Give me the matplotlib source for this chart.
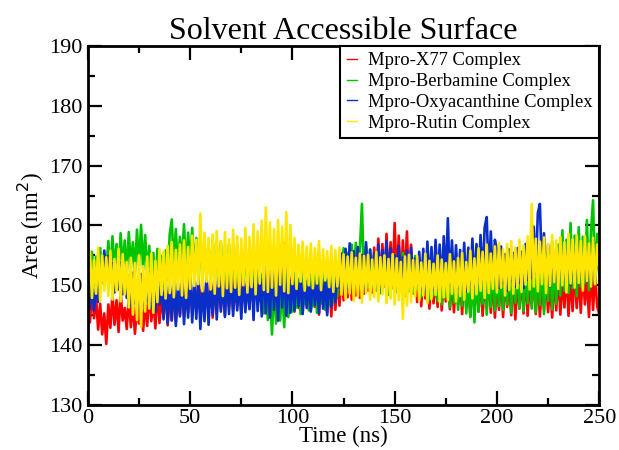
import numpy as np
import matplotlib
matplotlib.use("Agg")
import matplotlib.pyplot as plt
from matplotlib.ticker import MultipleLocator

# time axis, one value read per ns
time_ns = list(range(0, 251))

x77 = [
    147.2, 143.8, 149.1, 144.5, 148.0, 142.6, 146.9, 141.8, 145.3, 140.2,
    146.8, 142.9, 148.6, 143.4, 147.5, 142.2, 149.0, 144.1, 146.2, 142.7,
    148.3, 143.0, 147.1, 141.9, 146.4, 143.6, 148.8, 142.4, 147.0, 143.2,
    149.2, 144.0, 147.8, 142.8, 149.5, 143.7, 148.1, 144.6, 150.0, 143.3,
    148.7, 144.2, 149.6, 143.8, 147.9, 145.1, 150.4, 144.8, 149.2, 145.5,
    151.0, 145.2, 149.8, 146.0, 150.6, 144.9, 151.2, 145.7, 149.4, 146.3,
    151.5, 144.6, 150.2, 145.3, 152.0, 146.1, 150.8, 145.0, 151.6, 146.4,
    150.1, 145.8, 152.2, 146.6, 151.0, 145.4, 151.8, 146.9, 150.5, 146.2,
    152.4, 146.5, 151.3, 147.0, 152.8, 146.3, 151.7, 147.4, 152.6, 146.8,
    151.9, 146.1, 153.2, 147.2, 152.0, 148.0, 157.0, 147.6, 153.5, 146.9,
    152.1, 145.6, 151.4, 146.2, 152.3, 145.3, 150.9, 146.7, 151.8, 145.9,
    150.6, 146.4, 152.0, 145.1, 151.2, 146.8, 150.3, 145.5, 151.9, 144.8,
    150.7, 145.9, 151.6, 146.6, 152.4, 147.5, 153.1, 148.0, 153.8, 147.6,
    152.9, 148.3, 154.2, 147.9, 153.5, 148.6, 154.0, 149.1, 155.2, 148.8,
    156.3, 149.5, 157.8, 150.2, 156.9, 149.8, 158.6, 150.6, 157.2, 151.0,
    160.4, 150.4, 158.3, 149.7, 157.5, 150.9, 159.0, 149.3, 156.8, 150.1,
    153.6, 147.2, 152.4, 146.5, 153.0, 147.8, 151.9, 146.1, 152.7, 147.0,
    151.5, 146.4, 152.9, 145.8, 151.2, 147.3, 152.5, 146.0, 150.9, 145.5,
    152.2, 146.8, 151.0, 145.2, 152.6, 146.3, 150.7, 144.8, 151.8, 146.0,
    150.4, 145.6, 151.9, 144.9, 150.8, 146.2, 152.1, 145.4, 151.3, 144.6,
    150.6, 145.9, 152.0, 144.7, 151.1, 146.4, 150.2, 145.0, 151.7, 144.3,
    150.9, 146.1, 151.5, 145.3, 152.3, 144.9, 150.5, 146.6, 151.4, 145.2,
    152.0, 144.8, 150.8, 146.0, 151.9, 145.5, 150.3, 144.6, 151.6, 145.8,
    152.4, 145.1, 151.0, 146.3, 152.7, 144.9, 151.5, 145.7, 153.0, 146.2,
    151.8, 145.4, 152.6, 146.8, 151.2, 144.7, 153.3, 145.9, 152.1, 146.5,
    145.2,
]

berbamine = [
    152.4, 149.3, 155.6, 150.1, 154.8, 149.6, 156.2, 151.0, 155.1, 152.3,
    157.4, 151.6, 158.2, 152.5, 156.9, 151.3, 158.7, 152.8, 157.5, 151.9,
    158.9, 153.0, 157.2, 152.1, 159.3, 153.4, 160.1, 152.7, 158.4, 151.8,
    156.6, 150.5, 155.4, 149.2, 156.1, 150.3, 154.9, 149.8, 155.8, 150.9,
    158.5, 161.0, 153.2, 159.4, 152.6, 158.1, 153.8, 160.2, 152.4, 158.8,
    153.1, 159.6, 152.0, 157.9, 151.5, 158.3, 150.8, 157.1, 151.9, 156.4,
    150.6, 157.8, 151.2, 156.5, 150.1, 157.3, 149.6, 156.0, 150.4, 156.9,
    149.3, 155.7, 150.8, 156.6, 149.1, 155.2, 150.3, 156.3, 149.7, 155.0,
    150.2, 154.1, 148.6, 153.2, 147.4, 151.8, 145.3, 150.6, 144.2, 149.7,
    141.8, 150.2, 143.6, 151.4, 144.1, 149.8, 143.0, 152.3, 144.7, 150.5,
    145.6, 152.1, 146.3, 151.0, 145.2, 152.8, 146.9, 150.7, 145.8, 151.9,
    146.5, 152.6, 145.4, 151.3, 147.0, 152.9, 145.9, 150.8, 146.7, 152.2,
    147.3, 153.1, 148.2, 154.6, 149.5, 156.2, 150.1, 155.4, 149.7, 156.8,
    150.6, 157.1, 151.2, 156.0, 163.6, 150.4, 156.5, 149.8, 155.9, 150.3,
    155.2, 149.1, 156.0, 148.7, 154.8, 150.0, 155.6, 148.4, 154.3, 149.5,
    155.1, 148.9, 153.9, 149.7, 155.4, 148.2, 154.6, 149.0, 153.7, 148.6,
    154.9, 149.4, 153.5, 148.1, 155.0, 148.8, 153.8, 147.6, 154.4, 148.3,
    153.1, 147.4, 154.2, 146.8, 152.9, 148.0, 153.6, 146.3, 152.4, 147.1,
    153.3, 145.9, 152.1, 146.6, 153.7, 145.3, 152.6, 144.7, 151.8, 143.8,
    152.9, 145.6, 151.5, 146.9, 153.4, 145.1, 152.2, 146.4, 154.0, 145.8,
    152.7, 146.5, 154.1, 145.9, 153.0, 146.8, 154.5, 145.4, 152.8, 147.1,
    153.9, 146.2, 154.7, 145.7, 153.2, 147.0, 155.1, 146.1, 154.0, 145.5,
    153.6, 146.7, 154.9, 145.2, 153.3, 147.4, 155.4, 146.0, 154.2, 146.9,
    156.8, 148.3, 159.2, 149.1, 157.6, 148.7, 160.4, 149.5, 158.3, 148.2,
    159.7, 149.8, 158.1, 150.5, 160.9, 149.2, 159.0, 164.2, 150.1, 158.6,
    152.0,
]

oxyacanthine = [
    148.3, 146.1, 150.7, 145.8, 149.9, 147.2, 152.6, 150.4, 155.8, 151.2,
    154.9, 150.6, 153.7, 148.8, 152.9, 149.3, 153.8, 148.5, 152.2, 147.9,
    151.6, 146.4, 152.1, 147.0, 150.8, 145.9, 151.9, 146.6, 150.5, 147.3,
    152.3, 146.2, 151.4, 145.6, 152.0, 146.8, 150.9, 144.3, 151.2, 143.6,
    150.8, 144.1, 151.5, 143.2, 150.3, 144.8, 151.7, 143.5, 149.9, 144.6,
    152.2, 143.8, 150.6, 144.4, 151.3, 142.7, 150.1, 144.0, 151.8, 143.4,
    150.5, 145.1, 151.9, 144.3, 152.0, 145.6, 150.8, 144.7, 151.6, 145.2,
    152.3, 144.9, 150.9, 145.8, 151.4, 144.4, 152.1, 145.5, 150.7, 146.0,
    152.6, 144.2, 153.4, 145.7, 151.9, 144.8, 154.2, 145.3, 152.5, 144.6,
    153.8, 145.9, 152.2, 144.1, 154.6, 146.3, 153.1, 144.9, 152.8, 145.4,
    151.7, 145.8, 152.4, 146.5, 151.1, 145.2, 152.0, 146.2, 150.6, 145.6,
    151.9, 146.7, 150.8, 145.4, 152.3, 146.1, 151.2, 145.0, 152.1, 146.4,
    151.0, 147.2, 153.5, 149.6, 155.3, 150.2, 156.1, 149.4, 157.0, 150.8,
    155.7, 149.9, 156.4, 150.5, 155.1, 149.3, 157.2, 150.1, 156.0, 149.7,
    155.4, 150.6, 156.8, 149.2, 155.9, 150.3, 157.4, 149.8, 156.2, 150.9,
    155.0, 149.5, 156.6, 150.2, 154.7, 149.1, 155.8, 150.4, 156.3, 149.6,
    154.5, 150.0, 155.6, 149.3, 156.1, 148.8, 157.3, 149.9, 156.4, 149.2,
    157.6, 150.3, 156.8, 149.6, 158.2, 150.7, 161.2, 149.9, 157.5, 150.1,
    156.7, 149.4, 155.9, 150.5, 157.1, 149.0, 156.3, 150.2, 157.8, 149.7,
    156.9, 151.0, 158.4, 150.6, 159.7, 161.4, 151.3, 159.0, 150.8, 157.6,
    155.8, 149.6, 156.5, 150.3, 155.2, 149.1, 156.0, 150.7, 155.4, 149.8,
    156.2, 150.4, 155.6, 149.5, 156.9, 150.9, 155.3, 151.2, 159.8, 152.0,
    162.1, 163.6, 152.4, 158.7, 150.6, 156.8, 149.8, 157.2, 150.5, 156.1,
    149.7, 157.0, 150.8, 156.4, 149.3, 157.5, 150.1, 156.7, 149.6, 157.9,
    150.9, 156.2, 149.4, 157.3, 150.6, 156.0, 149.9, 157.7, 151.1, 155.8,
    152.4,
]

rutin = [
    151.8, 155.6, 147.9, 154.2, 148.6, 156.3, 147.4, 155.0, 149.1, 154.7,
    148.2, 155.8, 147.6, 154.4, 149.0, 156.1, 147.3, 155.2, 148.5, 153.9,
    146.3, 154.6, 145.1, 153.7, 144.2, 155.0, 143.0, 153.2, 145.6, 154.8,
    146.1, 155.3, 145.4, 154.1, 147.2, 156.0, 148.4, 155.7, 147.8, 156.6,
    148.7, 157.2, 148.0, 155.9, 149.3, 156.8, 148.3, 157.5, 147.9, 156.4,
    149.4, 158.3, 149.9, 157.6, 150.2, 162.0, 149.0, 158.8, 150.6, 157.9,
    149.3, 158.5, 148.6, 159.1, 149.8, 157.4, 148.2, 158.9, 149.5, 157.7,
    148.9, 159.3, 149.6, 158.2, 148.4, 157.8, 150.0, 159.6, 148.8, 158.1,
    149.7, 160.2, 148.5, 159.0, 150.3, 160.8, 149.2, 163.0, 148.9, 160.5,
    149.6, 159.4, 148.3, 160.9, 150.1, 159.8, 149.0, 162.2, 148.7, 160.1,
    150.2, 157.9, 149.4, 156.8, 150.6, 157.3, 149.1, 156.5, 150.0, 157.0,
    149.5, 156.2, 150.3, 157.4, 149.2, 156.0, 150.8, 155.7, 149.7, 156.6,
    148.9, 155.9, 149.8, 156.3, 148.4, 155.2, 147.7, 154.8, 148.6, 155.5,
    147.4, 154.6, 148.2, 155.3, 147.1, 154.9, 148.7, 155.1, 147.6, 154.3,
    148.0, 155.6, 147.3, 154.7, 148.5, 155.0, 147.0, 154.4, 147.8, 155.2,
    146.8, 154.5, 147.5, 153.9, 144.4, 154.8, 146.6, 155.1, 147.2, 154.2,
    148.1, 154.9, 147.4, 153.8, 148.3, 155.3, 147.0, 154.1, 147.7, 153.6,
    148.4, 155.0, 147.2, 154.3, 148.0, 153.7, 147.5, 155.2, 148.6, 154.0,
    147.3, 154.6, 148.2, 155.4, 147.6, 153.9, 148.9, 155.8, 147.8, 154.5,
    148.5, 156.2, 149.1, 155.6, 147.9, 156.8, 148.7, 155.3, 149.4, 156.5,
    148.8, 157.1, 149.6, 156.0, 148.3, 156.9, 149.2, 157.4, 148.6, 156.3,
    149.5, 157.6, 148.9, 156.7, 150.1, 158.2, 149.3, 163.6, 149.8, 157.8,
    149.0, 157.3, 150.2, 158.0, 148.7, 156.9, 149.9, 158.4, 150.5, 157.5,
    149.4, 158.1, 150.0, 157.2, 148.8, 158.6, 150.3, 157.7, 149.6, 158.3,
    150.4, 157.4, 149.1, 158.2, 150.7, 157.0, 149.8, 157.9, 150.2, 156.8,
    152.5,
]

labels = ["Mpro-X77 Complex", "Mpro-Berbamine Complex",
          "Mpro-Oxyacanthine Complex", "Mpro-Rutin Complex"]
colors = ["#ff0000", "#00c400", "#0a2ec8", "#ffe600"]

plt.rcParams['font.family'] = ['Liberation Serif', 'DejaVu Serif']

fig = plt.figure(figsize=(6.19, 4.5), dpi=100)
ax = fig.add_axes([0.142, 0.1, 0.826, 0.798])

for y, lab, c in zip([x77, berbamine, oxyacanthine, rutin], labels, colors):
    ax.plot(time_ns, y, color=c, lw=1.9, label=lab)

ax.set_xlim(0, 250)
ax.set_ylim(130, 190)
ax.xaxis.set_major_locator(MultipleLocator(50))
ax.xaxis.set_minor_locator(MultipleLocator(25))
ax.yaxis.set_major_locator(MultipleLocator(10))
ax.yaxis.set_minor_locator(MultipleLocator(5))
ax.tick_params(which='both', direction='in', top=True, right=True,
               labelsize=16, width=1.6)
ax.tick_params(which='major', length=10)
ax.tick_params(which='minor', length=5)
ax.tick_params(axis='x', pad=3)
ax.tick_params(axis='y', pad=4)
for s in ax.spines.values():
    s.set_linewidth(2)

ax.set_title("Solvent Accessible Surface", fontsize=23, pad=5)
ax.set_xlabel("Time (ns)", fontsize=16.5, labelpad=-2)
ax.set_ylabel("Area (nm$^2$)", fontsize=16.5, labelpad=2)

leg = ax.legend(loc='upper right', fontsize=13.4, frameon=True, fancybox=False,
                borderaxespad=0, handlelength=0.55, handletextpad=0.6,
                labelspacing=0.2, borderpad=0.35)
leg.get_frame().set_edgecolor('black')
leg.get_frame().set_linewidth(1.5)
leg.get_frame().set_alpha(1)
for h in leg.get_lines():
    h.set_linewidth(1.0)

fig.savefig("out.png", dpi=100)
